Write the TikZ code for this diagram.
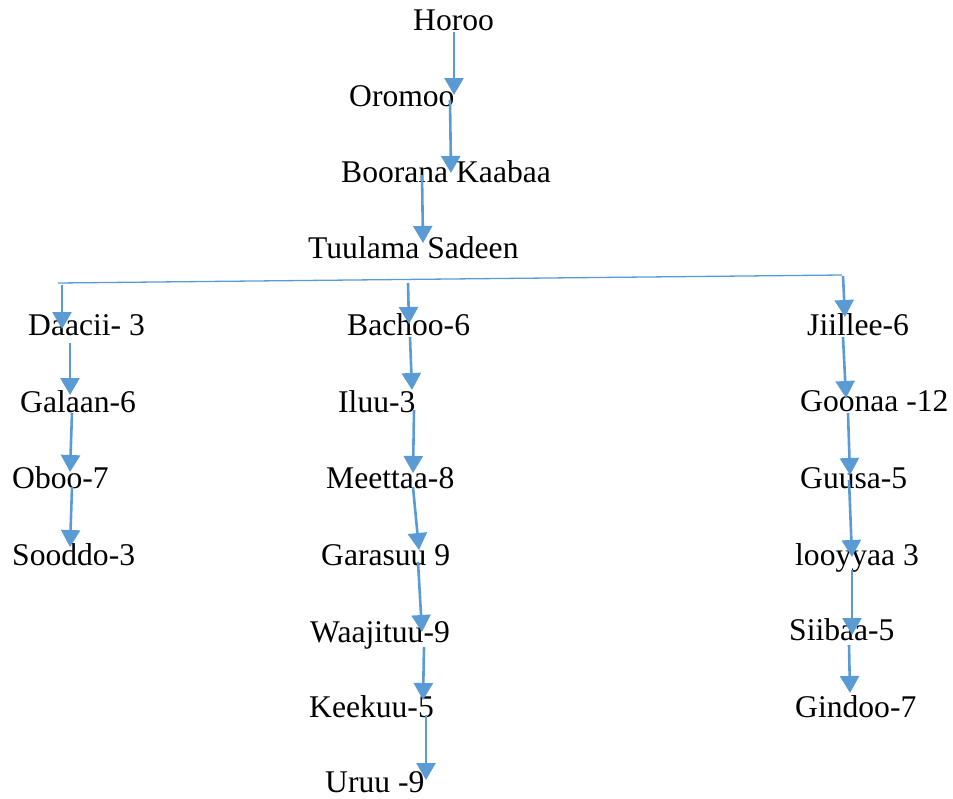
\documentclass[tikz,border=0pt]{standalone}
\usepackage{fontspec}
\setmainfont{Liberation Serif}
\usetikzlibrary{arrows.meta}
\definecolor{arrblue}{HTML}{5B9BD5}
\tikzset{
  lbl/.style={anchor=base west, inner sep=0pt, font=\fontsize{31.6}{36}\selectfont},
  arr/.style={draw=arrblue, line width=2.6pt, -{Triangle[width=19pt,length=17pt]}},
  bar/.style={draw=arrblue, line width=1.3pt}
}
\begin{document}
\begin{tikzpicture}[x=1pt,y=-1pt]
\useasboundingbox (0,0) rectangle (953,798);
% labels
\node[lbl] (horoo) at (413,30) {Horoo};
\node[lbl] (oromoo) at (349,106) {Oromoo};
\node[lbl] (boorana) at (341,182) {Boorana Kaabaa};
\node[lbl] (tuulama) at (308,258) {Tuulama Sadeen};
\node[lbl] (daacii) at (28,335) {Daacii- 3};
\node[lbl] (galaan) at (20,412) {Galaan-6};
\node[lbl] (oboo) at (12,488) {Oboo-7};
\node[lbl] (sooddo) at (12,565) {Sooddo-3};
\node[lbl] (bachoo) at (347,335) {Bachoo-6};
\node[lbl] (iluu) at (338,412) {Iluu-3};
\node[lbl] (meettaa) at (326,488) {Meettaa-8};
\node[lbl] (garasuu) at (321,565) {Garasuu 9};
\node[lbl] (waajituu) at (310,642) {Waajituu-9};
\node[lbl] (keekuu) at (309,717) {Keekuu-5};
\node[lbl] (uruu) at (325,792) {Uruu -9};
\node[lbl] (jiillee) at (807,335) {Jiillee-6};
\node[lbl] (goonaa) at (800,411) {Goonaa -12};
\node[lbl] (guusa) at (800,488) {Guusa-5};
\node[lbl] (looyyaa) at (795,565) {looyyaa 3};
\node[lbl] (siibaa) at (789,640) {Siibaa-5};
\node[lbl] (gindoo) at (795,717) {Gindoo-7};
% connector end points
\coordinate (c1s) at (454,32);  \coordinate (c1e) at (454,95);
\coordinate (c2s) at (450,100); \coordinate (c2e) at (451,173);
\coordinate (c3s) at (422,175); \coordinate (c3e) at (423,243);
\coordinate (barL) at (58,283); \coordinate (barR) at (842,275);
\coordinate (d0s) at (62,285);  \coordinate (d0e) at (62,329);
\coordinate (b0s) at (408,283); \coordinate (b0e) at (409,324);
\coordinate (j0s) at (843,276); \coordinate (j0e) at (845,317);
\coordinate (d1s) at (70,343);  \coordinate (d1e) at (70,395);
\coordinate (d2s) at (72,413);  \coordinate (d2e) at (70,472);
\coordinate (d3s) at (72,487);  \coordinate (d3e) at (70,547);
\coordinate (b1s) at (410,337); \coordinate (b1e) at (412,390);
\coordinate (b2s) at (414,410); \coordinate (b2e) at (413,473);
\coordinate (b3s) at (413,487); \coordinate (b3e) at (419,550);
\coordinate (b4s) at (418,562); \coordinate (b4e) at (422,632);
\coordinate (b5s) at (424,647); \coordinate (b5e) at (423,700);
\coordinate (b6s) at (426,715); \coordinate (b6e) at (426,780);
\coordinate (j1s) at (843,337); \coordinate (j1e) at (846,398);
\coordinate (j2s) at (848,413); \coordinate (j2e) at (850,475);
\coordinate (j3s) at (849,480); \coordinate (j3e) at (852,557);
\coordinate (j4s) at (852,570); \coordinate (j4e) at (852,635);
\coordinate (j5s) at (849,645); \coordinate (j5e) at (850,693);
% connectors
\draw[arr] (c1s) -- (c1e);
\draw[arr] (c2s) -- (c2e);
\draw[arr] (c3s) -- (c3e);
\draw[bar] (barL) -- (barR);
\draw[arr] (d0s) -- (d0e);
\draw[arr] (b0s) -- (b0e);
\draw[arr] (j0s) -- (j0e);
\draw[arr] (d1s) -- (d1e);
\draw[arr] (d2s) -- (d2e);
\draw[arr] (d3s) -- (d3e);
\draw[arr] (b1s) -- (b1e);
\draw[arr] (b2s) -- (b2e);
\draw[arr] (b3s) -- (b3e);
\draw[arr] (b4s) -- (b4e);
\draw[arr] (b5s) -- (b5e);
\draw[arr] (b6s) -- (b6e);
\draw[arr] (j1s) -- (j1e);
\draw[arr] (j2s) -- (j2e);
\draw[arr] (j3s) -- (j3e);
\draw[arr] (j4s) -- (j4e);
\draw[arr] (j5s) -- (j5e);
\end{tikzpicture}
\end{document}
